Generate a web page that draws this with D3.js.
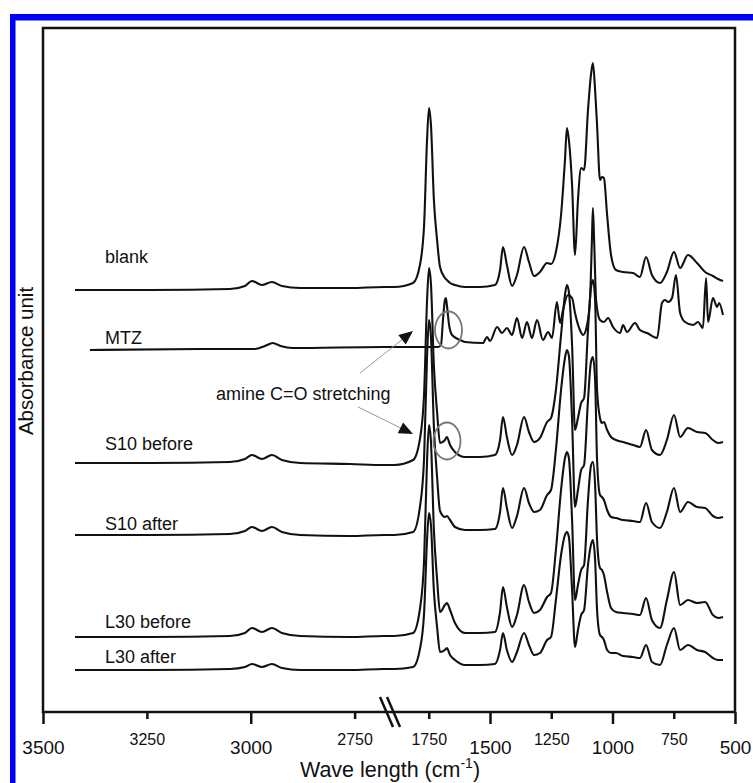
<!DOCTYPE html>
<html>
<head>
<meta charset="utf-8">
<script src="https://cdn.jsdelivr.net/npm/d3@7"></script>
<style>
  body { margin: 0; background: #fff; }
  svg { display: block; font-family: "Liberation Sans", Arial, sans-serif; }
</style>
</head>
<body>
<div id="container"></div>
<script>
let w = 753;
let h = 783;

// DATA
// wavenumber grid (cm-1) for the polymer spectra, left and right of the axis break
let waveLeft = [3423, 3242, 3050, 3014, 2997, 2973, 2949, 2925, 2881, 2761, 2680];
let waveRight = [1890, 1814, 1786, 1769, 1757, 1749, 1741, 1729, 1716, 1704,
  1684, 1676, 1663, 1643, 1602, 1541, 1480, 1459, 1447, 1431,
  1410, 1390, 1361, 1341, 1320, 1296, 1267, 1251, 1231, 1210,
  1194, 1186, 1178, 1165, 1153, 1141, 1128, 1116, 1100, 1088,
  1080, 1071, 1063, 1051, 1043, 1035, 1022, 1006, 986, 957,
  916, 888, 863, 839, 806, 778, 749, 724, 692, 655,
  622, 590, 569, 549];

// absorbance (arbitrary units, offset spectra)
let blank = [422, 422, 423, 426, 431, 427, 430, 426, 424, 424, 425,
  425, 429, 447, 487, 572, 604, 587, 512, 472, 445,
  434, 432, 429, 427, 425, 425, 427, 442, 465, 447,
  426, 437, 465, 450, 436, 440, 449, 448, 460, 497,
  552, 584, 572, 527, 457, 512, 544, 542, 602, 637,
  649, 622, 587, 532, 535, 534, 497, 457, 442, 440,
  439, 435, 455, 437, 429, 440, 460, 444, 457, 449,
  440, 436, 433, 431];

let s10Before = [249, 249, 250, 253, 257, 253, 257, 252, 249, 248, 247,
  247, 252, 273, 318, 411, 444, 428, 346, 300, 269,
  272, 275, 267, 260, 255, 255, 257, 272, 295, 275,
  257, 267, 295, 280, 270, 274, 290, 294, 322, 377,
  417, 427, 420, 367, 282, 294, 309, 314, 382, 424,
  432, 412, 322, 294, 289, 290, 282, 275, 272, 270,
  267, 265, 282, 262, 257, 272, 297, 275, 284, 280,
  279, 272, 269, 270];

let s10After = [177, 177, 178, 181, 185, 181, 185, 180, 177, 176, 177,
  177, 180, 205, 254, 355, 392, 375, 285, 235, 201,
  195, 196, 192, 185, 182, 182, 183, 200, 224, 204,
  184, 196, 224, 209, 200, 202, 217, 222, 262, 322,
  354, 362, 356, 292, 205, 222, 242, 247, 312, 350,
  355, 332, 252, 217, 215, 212, 202, 195, 194, 192,
  191, 190, 209, 190, 184, 200, 224, 200, 210, 205,
  204, 196, 194, 195];

let l30Before = [75, 75, 76, 79, 84, 80, 84, 79, 76, 75, 76,
  76, 79, 103, 152, 251, 287, 270, 182, 133, 100,
  107, 109, 102, 89, 79, 79, 80, 100, 125, 105,
  85, 97, 127, 110, 99, 102, 115, 119, 162, 222,
  254, 260, 254, 192, 112, 127, 142, 147, 212, 246,
  250, 227, 172, 144, 142, 137, 120, 104, 100, 99,
  98, 97, 114, 92, 84, 112, 140, 107, 112, 109,
  110, 97, 94, 95];

let l30After = [42, 42, 43, 45, 48, 45, 48, 44, 42, 42, 43,
  43, 45, 63, 99, 172, 199, 187, 121, 85, 60,
  62, 64, 57, 52, 47, 47, 48, 62, 79, 62,
  50, 60, 79, 67, 57, 59, 72, 75, 112, 157,
  177, 180, 175, 122, 65, 82, 97, 102, 147, 167,
  172, 152, 102, 77, 75, 72, 62, 59, 59, 56,
  55, 54, 67, 50, 47, 67, 84, 62, 67, 62,
  60, 54, 52, 52];

// MTZ has its own, denser grid
let mtzWave = [3387, 3122, 2990, 2966, 2947, 2928, 2900, 2680,
  1890, 1712, 1700, 1692, 1684, 1680, 1676, 1667, 1655, 1622,
  1602, 1529, 1512, 1500, 1471, 1451, 1431, 1410, 1390, 1369,
  1349, 1329, 1308, 1284, 1263, 1247, 1227, 1214, 1202, 1182,
  1165, 1153, 1133, 1120, 1104, 1092, 1084, 1080, 1075, 1067,
  1051, 1035, 1018, 998, 969, 957, 941, 908, 888, 859,
  818, 798, 786, 773, 757, 741, 724, 704, 671, 651,
  631, 618, 610, 590, 573, 565, 549];
let mtz = [362, 363, 363, 366, 369, 366, 364, 365,
  365, 365, 367, 392, 412, 414, 407, 387, 377, 372,
  370, 369, 375, 371, 385, 379, 384, 377, 394, 374,
  390, 374, 392, 372, 380, 374, 410, 389, 402, 417,
  414, 399, 382, 377, 387, 412, 472, 504, 472, 412,
  392, 390, 394, 385, 379, 387, 380, 389, 382, 379,
  374, 409, 412, 410, 414, 437, 399, 390, 387, 390,
  384, 434, 390, 414, 405, 409, 397];

let sampleNames = ["blank", "MTZ", "S10 before", "S10 after", "L30 before", "L30 after"];
let ticksLeft = [3500, 3250, 3000, 2750];
let ticksRight = [1750, 1500, 1250, 1000, 750, 500];
let majorTicks = [3500, 3000, 1500, 1000, 500];

// LAYOUT
let plotLeft = 43, plotRight = 735, plotTop = 28, plotBottom = 712, breakX = 392;
let labelLift = [27, 6, 13, 5, 9, 7];

let viz = d3.select("#container").append("svg")
    .attr("width", w)
    .attr("height", h)
    .style("background-color", "white");

// blue border of the original figure
viz.append("rect").attr("x", 10).attr("y", 14).attr("width", w - 10).attr("height", 6.5).attr("fill", "#0000f5");
viz.append("rect").attr("x", 10).attr("y", 14).attr("width", 5.5).attr("height", h - 14).attr("fill", "#0000f5");

// SCALES
let xLeft = d3.scaleLinear().domain([3500, 2660]).range([plotLeft, breakX]);
let xRight = d3.scaleLinear().domain([1900, 500]).range([breakX, plotRight]);
let x = d3.scaleLinear().domain([3500, 2660, 1900, 500]).range([plotLeft, breakX, breakX, plotRight]);
let y = d3.scaleLinear().domain([0, 690]).range([plotBottom, plotBottom - 690]);

let waves = waveLeft.concat(waveRight);
let series = [
  waves.map((d, i) => [d, blank[i]]),
  mtzWave.map((d, i) => [d, mtz[i]]),
  waves.map((d, i) => [d, s10Before[i]]),
  waves.map((d, i) => [d, s10After[i]]),
  waves.map((d, i) => [d, l30Before[i]]),
  waves.map((d, i) => [d, l30After[i]])
];

let line = d3.line()
    .x(d => x(d[0]))
    .y(d => y(d[1]))
    .curve(d3.curveMonotoneX);

viz.append("g").selectAll("path").data(series).enter()
  .append("path")
    .attr("d", line)
    .attr("fill", "none")
    .attr("stroke", "#111")
    .attr("stroke-width", 2.1)
    .attr("stroke-linejoin", "round");

// sample labels
viz.append("g").selectAll("text").data(series).enter()
  .append("text")
    .attr("x", 105)
    .attr("y", (d, i) => y(d[0][1]) - labelLift[i])
    .attr("font-size", 18)
    .attr("fill", "#111")
    .text((d, i) => sampleNames[i]);

// FRAME
viz.append("rect")
    .attr("x", plotLeft).attr("y", plotTop)
    .attr("width", plotRight - plotLeft).attr("height", plotBottom - plotTop)
    .attr("fill", "none").attr("stroke", "#111").attr("stroke-width", 2.5);

// AXES
function styleAxis(g) {
  g.select(".domain").remove();
  g.selectAll(".tick line")
    .attr("stroke", "#111")
    .attr("stroke-width", 2.5)
    .attr("y2", d => majorTicks.includes(d) ? 12 : 7);
  g.selectAll(".tick text")
    .attr("dy", null)
    .attr("y", d => majorTicks.includes(d) ? 42 : 33)
    .attr("font-size", d => majorTicks.includes(d) ? 19 : 16)
    .attr("font-family", "Liberation Sans, Arial, sans-serif")
    .attr("fill", "#111");
}
viz.append("g").attr("transform", `translate(0,${plotBottom})`)
  .call(d3.axisBottom(xLeft).tickValues(ticksLeft).tickFormat(d3.format("d")))
  .call(styleAxis);
viz.append("g").attr("transform", `translate(0,${plotBottom})`)
  .call(d3.axisBottom(xRight).tickValues(ticksRight).tickFormat(d3.format("d")))
  .call(styleAxis);

// break marks
viz.append("g").selectAll("line").data([-12, -5]).enter()
  .append("line")
    .attr("x1", d => breakX + d).attr("y1", plotBottom - 15)
    .attr("x2", d => breakX + d + 13).attr("y2", plotBottom + 15)
    .attr("stroke", "#111").attr("stroke-width", 2.5);

// axis titles
let xt = viz.append("text")
    .attr("x", 390).attr("y", 777)
    .attr("text-anchor", "middle")
    .attr("font-size", 21.5)
    .attr("fill", "#111");
xt.append("tspan").text("Wave length (cm");
xt.append("tspan").attr("dy", -9).attr("font-size", 14).text("-1");
xt.append("tspan").attr("dy", 9).text(")");

viz.append("text")
    .attr("transform", "translate(33,361) rotate(-90)")
    .attr("text-anchor", "middle")
    .attr("font-size", 20.5)
    .attr("fill", "#111")
    .text("Absorbance unit");

// ANNOTATION
viz.append("text")
    .attr("x", 216).attr("y", 400)
    .attr("font-size", 18)
    .attr("fill", "#111")
    .text("amine C=O stretching");

let arrows = [[360, 373, 413, 331], [358, 407, 413, 434]];
arrows.forEach(function(a) {
  let ang = Math.atan2(a[3] - a[1], a[2] - a[0]);
  viz.append("line")
    .attr("x1", a[0]).attr("y1", a[1])
    .attr("x2", a[2] - 8 * Math.cos(ang)).attr("y2", a[3] - 8 * Math.sin(ang))
    .attr("stroke", "#999").attr("stroke-width", 1);
  let len = 14, half = 6;
  let bx = a[2] - len * Math.cos(ang), by = a[3] - len * Math.sin(ang);
  let px = -Math.sin(ang) * half, py = Math.cos(ang) * half;
  viz.append("path")
    .attr("d", `M${a[2]},${a[3]}L${bx + px},${by + py}L${bx - px},${by - py}Z`)
    .attr("fill", "#111");
});

viz.append("g").selectAll("ellipse").data([[448.5, 330], [447, 441]]).enter()
  .append("ellipse")
    .attr("cx", d => d[0]).attr("cy", d => d[1])
    .attr("rx", 13.5).attr("ry", 18.5)
    .attr("fill", "none")
    .attr("stroke", "#777")
    .attr("stroke-width", 1.8);
</script>
</body>
</html>
